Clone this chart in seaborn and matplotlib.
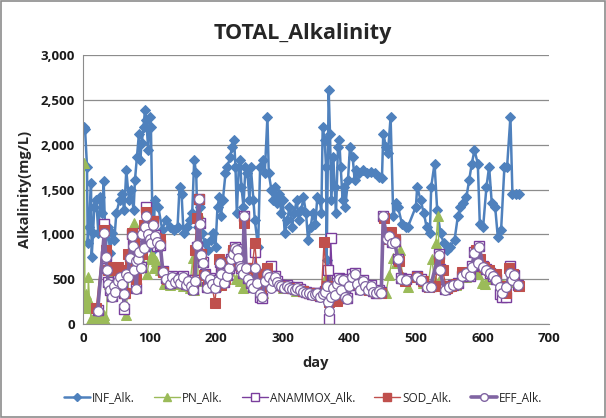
import seaborn as sns
import matplotlib
matplotlib.use("Agg")
import matplotlib.pyplot as plt
from matplotlib.lines import Line2D
from matplotlib.patches import Rectangle
from matplotlib.ticker import FuncFormatter

# influent
inf_day = [1,3,6,7,9,12,13,15,17,20,23,26,29,31,34,37,41,43,47,50,
           55,58,62,65,69,72,76,78,81,84,86,88,91,93,95,98,100,102,105,108,
           113,119,124,130,136,142,145,148,151,156,160,164,167,170,172,176,179,183,187,192,
           195,199,202,205,207,210,214,217,221,224,227,229,231,234,236,238,241,244,247,250,
           252,256,258,263,266,270,273,277,279,283,286,288,292,294,298,300,303,307,310,314,
           317,321,324,328,331,335,338,342,345,349,352,356,358,360,363,365,366,369,371,373,
           376,378,380,383,385,387,390,392,394,398,401,405,408,410,415,421,427,433,438,444,
           449,451,455,458,462,466,470,473,479,485,488,500,502,507,512,516,521,523,528,532,
           537,542,546,551,558,563,567,571,576,580,584,588,593,596,601,606,610,614,619,623,
           628,633,637,642,645,650,655]
inf_alk = [2200,2180,1755,900,1085,1570,750,1010,1310,1380,1010,1420,1235,1590,825,1085,790,1010,935,1235,
           1385,1455,1270,1715,1385,1495,1270,1605,1865,2125,1830,2015,2200,2385,2275,1940,2310,2200,825,1380,
           1310,1050,1160,1085,1050,1085,1530,1455,1010,1085,1160,1235,1830,1680,1085,1310,1010,900,825,935,
           1010,860,1310,1420,1200,1380,1680,1755,1865,1980,2050,1755,1235,1755,1830,1530,1310,1755,1680,1380,
           1755,1380,1160,860,1755,1830,1680,2310,1680,1495,1380,1530,1345,1455,1235,1380,1010,1160,1310,1085,
           1235,1380,1160,1270,1420,1235,935,1085,1235,1120,1420,1380,1235,2200,2050,1755,715,2610,2125,1380,
           1865,1530,1235,1980,2050,1755,1380,1530,1310,1605,1980,1865,1605,1715,1680,1715,1680,1700,1680,1640,
           1625,2125,1980,1905,2310,1200,1345,1310,1120,1085,1085,1310,1530,1380,1235,1085,1010,1530,1790,1270,
           1010,900,825,860,935,1200,1310,1345,1420,1605,1790,1940,1790,1120,1085,1530,1755,1345,1310,975,
           1050,1755,1755,2310,1455,1455,1450]

# PN reactor
pn_day = [1,2,3,5,7,8,10,12,14,17,20,23,26,29,32,35,37,39,42,50,
          58,64,70,76,82,90,96,100,103,106,109,112,116,122,130,140,150,160,165,167,
          172,176,180,190,200,210,220,230,236,240,250,260,270,280,290,300,320,340,360,366,
          370,380,400,420,440,455,460,465,470,476,480,488,500,510,518,524,528,530,533,536,
          545,560,575,590,594,600,604,608,620,640,655]
pn_alk = [300,1800,200,330,180,520,230,60,40,50,80,60,120,50,100,20,500,450,520,560,
          500,100,600,1130,620,800,560,720,780,620,700,640,600,450,430,450,420,400,740,380,
          480,1200,600,450,420,650,600,500,480,400,480,460,350,600,450,400,370,350,330,550,
          470,420,450,400,380,350,550,740,680,820,520,410,520,460,430,730,480,900,1200,500,
          400,430,520,560,560,460,450,500,500,470,420]

# ANAMMOX + effluent share sampling days
eff_day = [22,32,34,36,38,40,43,46,48,52,55,58,61,62,64,67,70,73,75,77,
           79,80,82,84,87,89,91,93,95,97,100,102,105,108,111,116,120,125,130,134,
           138,142,146,150,154,158,162,165,168,171,174,175,177,180,183,186,190,194,198,202,
           206,208,212,216,219,222,225,228,231,233,236,238,240,242,245,248,252,256,259,262,
           266,269,273,276,279,282,285,288,291,294,298,302,306,310,314,318,322,326,330,335,
           340,344,348,352,356,360,363,366,368,370,372,375,378,381,384,387,390,393,396,400,
           404,408,412,416,420,424,428,432,436,440,444,448,451,456,460,464,468,473,478,485,
           502,508,516,522,534,536,543,549,555,563,569,575,581,584,588,593,595,601,606,612,
           616,621,626,630,636,641,644,648,653]
anammox_alk = [160,1120,760,620,470,380,310,430,370,490,530,460,350,170,570,530,760,1000,880,620,
               720,400,740,820,640,1020,870,1100,1310,1020,960,920,1150,990,870,880,590,510,460,530,
               480,510,470,530,450,490,430,390,490,860,1400,1130,780,690,560,410,510,460,410,490,
               690,570,470,550,630,730,790,860,840,750,660,630,570,1200,630,510,460,410,800,560,
               300,290,490,570,530,650,490,530,480,440,430,410,430,410,400,390,410,390,370,360,
               350,330,340,350,310,340,370,420,600,50,960,420,330,460,510,390,500,310,290,430,
               560,570,460,390,490,430,390,430,370,350,380,360,1200,1000,990,910,930,730,510,500,
               530,500,420,420,780,610,390,420,440,460,540,570,540,650,800,700,870,650,610,570,
               540,500,330,300,300,650,500,550,440]
eff_alk = [150,1020,750,600,450,380,300,420,360,480,520,450,330,200,560,520,740,980,870,600,
           700,390,720,800,620,1000,850,1080,1200,1000,950,900,1100,980,920,880,580,500,450,520,
           470,500,460,520,440,480,420,380,480,880,1400,1120,770,680,550,400,500,450,400,480,
           680,560,460,540,620,720,780,850,830,740,650,620,560,1200,620,500,450,400,620,460,
           330,300,480,560,520,400,480,520,470,430,420,400,420,400,390,380,400,380,360,350,
           340,320,330,340,300,330,360,420,250,140,300,400,320,450,500,380,490,300,280,420,
           520,560,450,380,480,420,380,420,360,340,370,350,1200,950,980,900,920,720,500,490,
           525,490,415,415,770,600,380,415,435,450,530,565,530,640,790,680,860,640,600,565,
           530,490,415,340,415,565,490,545,435]

# SOD reactor
sod_day = [20,32,34,38,42,46,52,56,60,63,67,70,73,76,80,84,88,92,95,100,
           105,110,116,120,126,132,140,148,156,164,168,171,174,177,182,188,194,198,204,208,
           214,220,226,232,238,242,246,252,258,262,268,276,282,290,300,310,320,330,340,350,
           358,362,366,370,374,378,381,386,392,400,410,420,430,440,448,452,458,462,468,474,
           484,502,510,520,528,535,540,546,552,560,570,580,590,596,602,610,620,630,636,640,
           646,655]
sod_alk = [180,1050,830,600,640,600,640,600,560,350,780,700,1020,900,500,820,780,1100,1250,1060,
           1150,960,950,580,500,480,470,500,460,420,820,1180,1400,780,550,480,430,230,720,430,
           500,680,820,780,650,1130,620,480,900,560,380,620,500,450,420,400,390,370,340,320,
           330,910,420,250,300,380,260,330,480,450,470,400,380,360,350,1180,950,1030,950,700,
           480,520,480,410,420,740,600,400,420,450,580,560,820,720,640,600,560,420,340,620,
           560,420]

sns.set_style("white")
plt.rcParams['font.family'] = ['Open Sans', 'DejaVu Sans']

fig = plt.figure(figsize=(6.06, 4.18), dpi=100)
ax = fig.add_axes([0.137, 0.225, 0.769, 0.643])

blue = '#4F81BD'
green = '#9BBB59'
purple = '#7A3E9D'
red = '#C0504D'
violet = '#8064A2'

sns.lineplot(x=inf_day, y=inf_alk, ax=ax, color=blue, lw=1.8, marker='D', markersize=5.5,
             markeredgecolor=blue, estimator=None, sort=False)
sns.lineplot(x=pn_day, y=pn_alk, ax=ax, color=green, lw=1.0, marker='^', markersize=6.5,
             markeredgecolor=green, estimator=None, sort=False)
sns.lineplot(x=eff_day, y=anammox_alk, ax=ax, color=purple, lw=1.0, marker='s', markersize=6.5,
             markerfacecolor='white', markeredgecolor=purple, markeredgewidth=1.0, estimator=None, sort=False)
sns.lineplot(x=sod_day, y=sod_alk, ax=ax, color=red, lw=1.0, marker='s', markersize=6.5,
             markeredgecolor=red, estimator=None, sort=False)
sns.lineplot(x=eff_day, y=eff_alk, ax=ax, color=violet, lw=2.6, marker='o', markersize=7,
             markerfacecolor='white', markeredgecolor=violet, markeredgewidth=0.9, estimator=None, sort=False)

ax.set_xlim(0, 700)
ax.set_ylim(0, 3000)
ax.set_xticks(range(0, 701, 100))
ax.set_yticks(range(0, 3001, 500))
ax.yaxis.set_major_formatter(FuncFormatter(lambda v, p: f'{int(v):,}'))
ax.grid(axis='y', color='#8C8C8C', lw=0.9)
ax.set_axisbelow(True)
for s in ['top', 'right']:
    ax.spines[s].set_visible(False)
for s in ['left', 'bottom']:
    ax.spines[s].set_color('#8C8C8C')
ax.tick_params(axis='both', labelsize=9.5, length=0, pad=6, labelcolor='#1A1A1A')
for t in ax.get_xticklabels() + ax.get_yticklabels():
    t.set_fontweight('bold')

ax.set_xlabel('day', fontsize=10.5, fontweight='bold', labelpad=8)
ax.set_ylabel('Alkalinity(mg/L)', fontsize=10.5, fontweight='bold', labelpad=6)
fig.suptitle('TOTAL_Alkalinity', x=0.5, y=0.945, fontsize=15.5, fontweight='bold')

handles = [
    Line2D([], [], color=blue, lw=1.8, marker='D', markersize=4.5, markeredgecolor=blue),
    Line2D([], [], color=green, lw=1.0, marker='^', markersize=5.5, markeredgecolor=green),
    Line2D([], [], color=purple, lw=1.0, marker='s', markersize=5.5, markerfacecolor='white', markeredgecolor=purple),
    Line2D([], [], color=red, lw=1.0, marker='s', markersize=5.5, markeredgecolor=red),
    Line2D([], [], color=violet, lw=2.6, marker='o', markersize=5.5, markerfacecolor='white', markeredgecolor=violet),
]
labels = ['INF_Alk.', 'PN_Alk.', 'ANAMMOX_Alk.', 'SOD_Alk.', 'EFF_Alk.']
fig.legend(handles, labels, loc='center', bbox_to_anchor=(0.5, 0.048), ncol=5, frameon=False,
           fontsize=8.5, handlelength=2.2, handletextpad=0.2, columnspacing=1.6)

fig.patches.append(Rectangle((0.002, 0.002), 0.996, 0.996, transform=fig.transFigure,
                             fill=False, edgecolor='#8C8C8C', lw=1.2))

fig.savefig('out.png', dpi=100)
